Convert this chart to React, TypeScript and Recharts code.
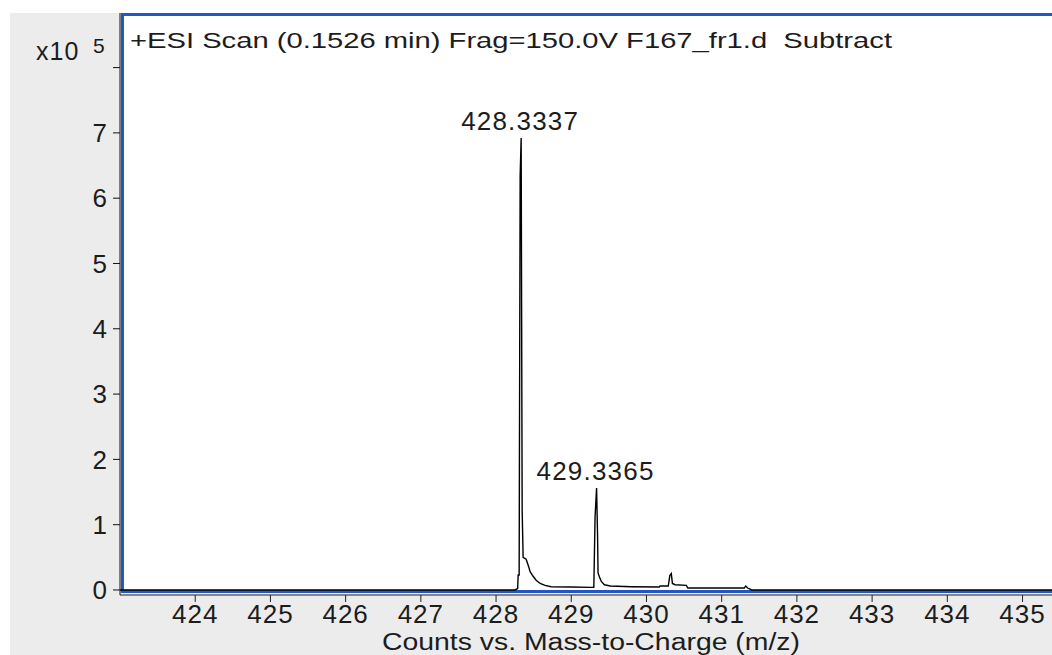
import React from 'react';
import { LineChart, Line, XAxis, YAxis, ReferenceArea } from 'recharts';

// profile spectrum, m/z vs counts
const mzValues = [
  423.0, 428.25, 428.287, 428.294, 428.307, 428.3204, 428.3337, 428.347, 428.36, 428.4,
  428.427, 428.453, 428.493, 428.533, 428.586, 428.652, 428.732, 429.0, 429.27, 429.3,
  429.3165, 429.3365, 429.35, 429.356, 429.375, 429.4, 429.44, 429.52, 429.8, 430.17,
  430.18, 430.29, 430.31, 430.33, 430.345, 430.38, 430.53, 430.55, 431.3, 431.32,
  431.345, 431.4, 436.0,
];
const countValues = [
  0, 0, 2000, 23000, 23000, 634000, 692000, 122000, 50000, 47000,
  38000, 28000, 21000, 15000, 10000, 7000, 5000, 4500, 4000, 4000,
  112000, 156000, 81000, 26000, 20000, 13000, 8000, 6000, 5000, 4500,
  6000, 6000, 22000, 25000, 10000, 8000, 7000, 3000, 3000, 6000,
  3000, 0, 0,
];
const labeledPeaks = [428.3337, 429.3365];

const xTicks = [424, 425, 426, 427, 428, 429, 430, 431, 432, 433, 434, 435];
const yTicks = [0, 100000, 200000, 300000, 400000, 500000, 600000, 700000, 800000];

const data = mzValues.map((mz, i) => ({ mz, counts: countValues[i] }));

const FONT = '"Liberation Sans", Arial, sans-serif';
const BLUE = '#2357c6';
const INK = '#1c1c1c';

const PeakLabel = (props: any) => {
  const { x, y, index } = props;
  const mz = data[index]?.mz;
  if (!labeledPeaks.includes(mz)) return null;
  return (
    <text x={x - 1} y={y - 8} textAnchor="middle" fontSize={26} fontFamily={FONT}
      fill={INK} letterSpacing={1.2}>
      {mz.toFixed(4)}
    </text>
  );
};

const AxisTitle = () => (
  <text x={591} y={650} textAnchor="middle" fontSize={23} fontFamily={FONT} fill={INK}
    textLength={418} lengthAdjust="spacingAndGlyphs">
    Counts vs. Mass-to-Charge (m/z)
  </text>
);

export default function App() {
  return (
    <div style={{ position: 'relative', width: 1052, height: 655, overflow: 'hidden', background: '#fff' }}>
      <style>{'body{margin:0}'}</style>
      <div style={{ position: 'absolute', left: 10, top: 13, right: 0, bottom: 0, background: '#ececec' }} />
      <div style={{ position: 'absolute', left: 0, top: 0 }}>
        <LineChart width={1100} height={655} data={data} margin={{ top: 13, right: 0, bottom: 0, left: 0 }}>
          <ReferenceArea x1={423.033} x2={436.03} y1={-2300} y2={881300} fill="#fff" fillOpacity={1}
            stroke={BLUE} strokeWidth={3} ifOverflow="visible" />
          <XAxis dataKey="mz" type="number" domain={[423.0, 436.03]} ticks={xTicks} allowDataOverflow
            height={60} tickSize={7} tickMargin={3} interval={0}
            axisLine={{ stroke: '#222' }} tickLine={{ stroke: '#222' }}
            tick={{ fontSize: 26, fontFamily: FONT, fill: INK, letterSpacing: 1 }}
            label={<AxisTitle />} />
          <YAxis type="number" domain={[-7700, 883600]} ticks={yTicks} allowDataOverflow width={120}
            tickSize={7} tickMargin={6} interval={0}
            tickFormatter={(v: number) => (v === 800000 ? '' : String(v / 100000))}
            axisLine={{ stroke: '#111' }} tickLine={{ stroke: '#111' }}
            tick={{ fontSize: 26, fontFamily: FONT, fill: INK }} />
          <Line type="linear" dataKey="counts" stroke="#000" strokeWidth={1.4} dot={false}
            isAnimationActive={false} label={<PeakLabel />} />
        </LineChart>
      </div>
      <svg width={1052} height={655} style={{ position: 'absolute', left: 0, top: 0, pointerEvents: 'none' }}>
        <text x={36} y={60} fontSize={25} fontFamily={FONT} fill={INK} letterSpacing={1}>x10</text>
        <text x={93} y={53} fontSize={21} fontFamily={FONT} fill={INK}>5</text>
        <text x={130} y={48} fontSize={22} fontFamily={FONT} fill={INK} style={{ whiteSpace: 'pre' }}
          textLength={762} lengthAdjust="spacingAndGlyphs">
          {'+ESI Scan (0.1526 min) Frag=150.0V F167_fr1.d  Subtract'}
        </text>
      </svg>
    </div>
  );
}
